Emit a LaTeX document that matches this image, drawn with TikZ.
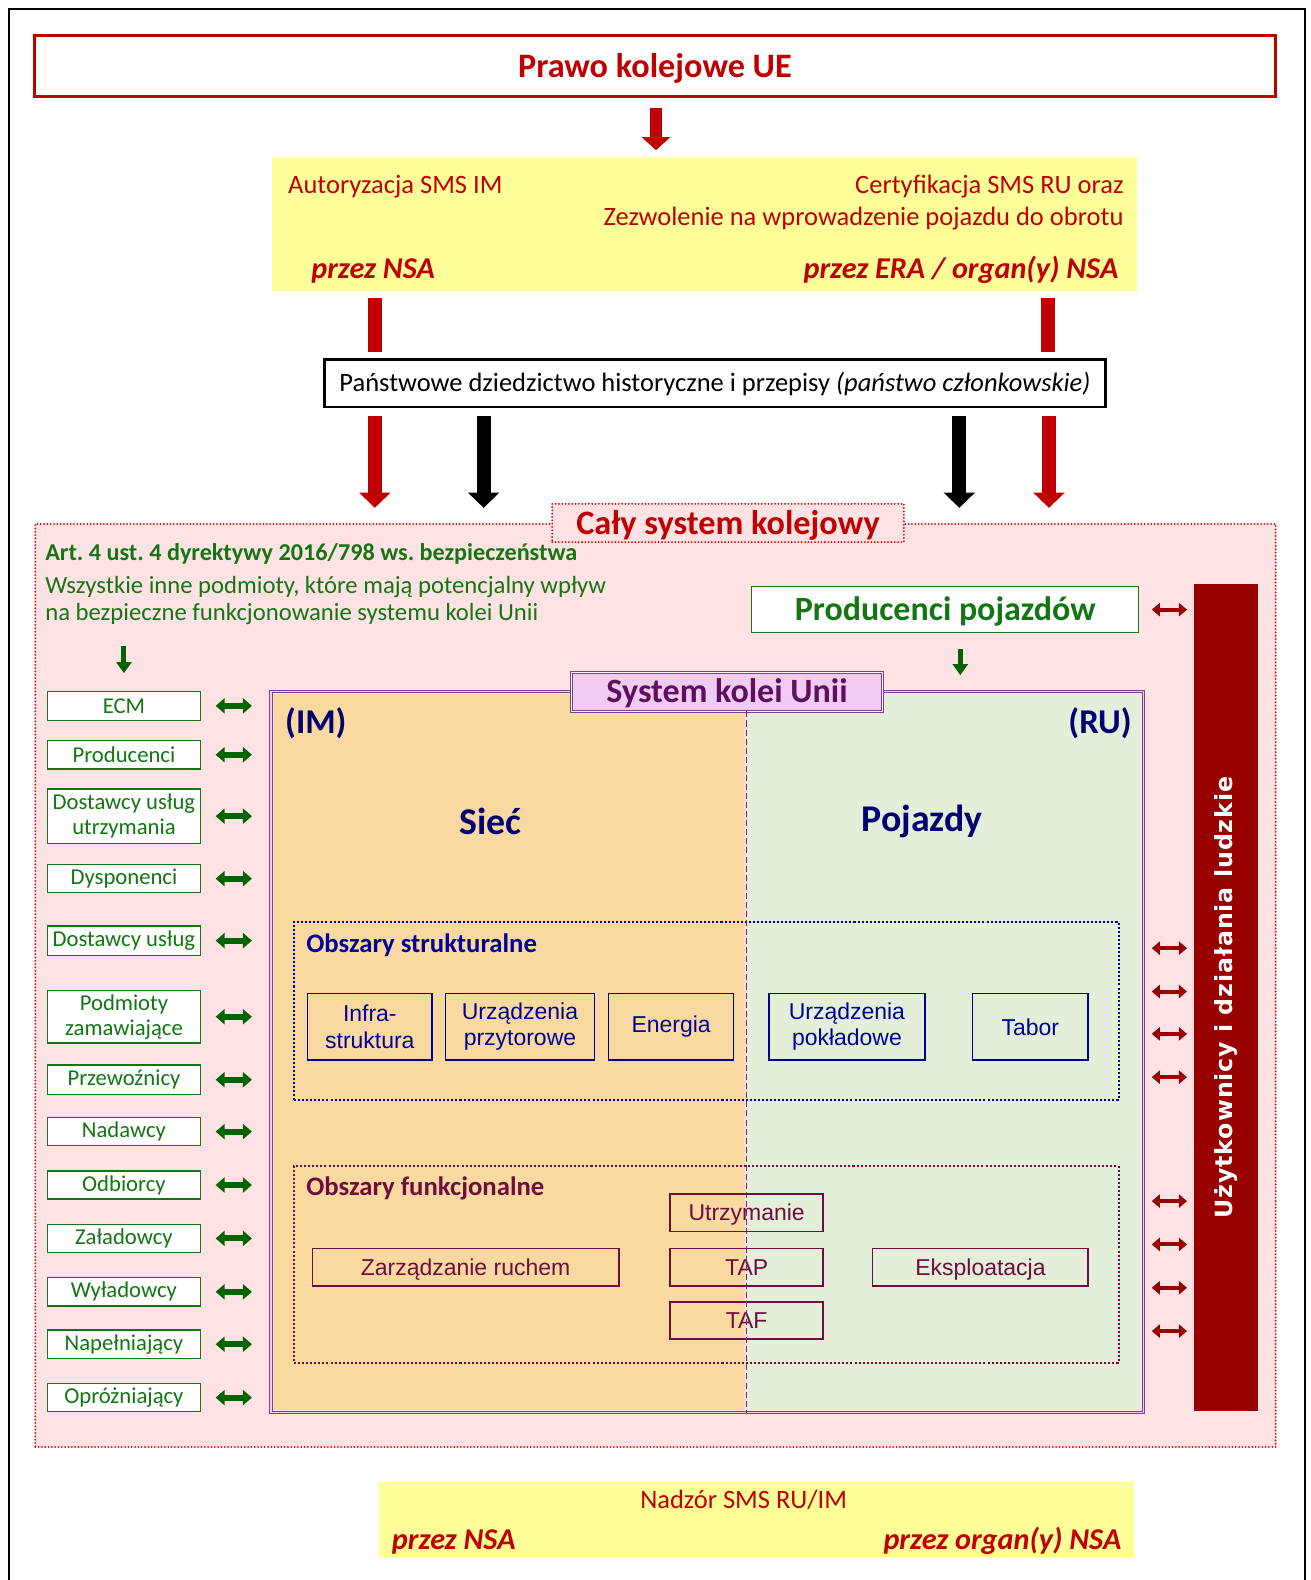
\documentclass[tikz,border=0pt]{standalone}
\usepackage{fontspec}
\setmainfont{Carlito}
\newfontfamily\arialf{Liberation Sans}
\newfontfamily\dejaf[LetterSpace=4]{DejaVu Sans}
\usetikzlibrary{arrows.meta,calc}
\definecolor{myred}{HTML}{C00000}
\definecolor{mydot}{HTML}{E00000}
\definecolor{myyel}{HTML}{FFFF99}
\definecolor{mypink}{HTML}{FFE2E4}
\definecolor{myorange}{HTML}{FAD9A1}
\definecolor{mylgreen}{HTML}{E3EFD9}
\definecolor{mylav}{HTML}{F0CCF5}
\definecolor{mypurp}{HTML}{7F3F8F}
\definecolor{mydash}{HTML}{7F1F6F}
\definecolor{mypurptxt}{HTML}{5F0F5F}
\definecolor{mynavy}{HTML}{000072}
\definecolor{myblue}{HTML}{000099}
\definecolor{mymaroon}{HTML}{6E0E3E}
\definecolor{mygreen}{HTML}{137613}
\definecolor{mygreenarr}{HTML}{006400}
\definecolor{mydarkred}{HTML}{990000}
\newcommand\fsz[2]{\fontsize{#1}{#2}\selectfont}
\frenchspacing
\begin{document}
\begin{tikzpicture}[x=1pt,y=-1pt,
  every node/.style={inner sep=0pt,outer sep=0pt},
  bigR/.style={draw=myred,line width=14pt,-{Triangle[length=15pt,width=30pt]}},
  bigK/.style={draw=black,line width=14pt,-{Triangle[length=15pt,width=30pt]}},
  barR/.style={draw=myred,line width=14pt},
  topR/.style={draw=myred,line width=12pt,-{Triangle[length=13pt,width=28pt]}},
  gdown/.style={draw=mygreenarr,line width=5pt,-{Triangle[length=11pt,width=15pt]}},
  gdbl/.style={draw=mygreenarr,line width=6pt,{Triangle[length=9pt,width=15pt]}-{Triangle[length=9pt,width=15pt]}},
  rdbl/.style={draw=mydarkred,line width=4pt,{Triangle[length=8pt,width=13pt]}-{Triangle[length=8pt,width=13pt]}},
  listbox/.style={draw=mygreen,line width=1.3pt,fill=white,minimum width=152pt,text=mygreen,font=\fsz{22.5}{25},align=center},
  sbox/.style={draw=myblue,line width=1.6pt,text=myblue,font=\arialf\fsz{22.8}{26},align=center,minimum height=66pt},
  fbox/.style={draw=mymaroon,line width=1.6pt,text=mymaroon,font=\arialf\fsz{22.8}{26},minimum width=152pt,minimum height=37pt,text height=16.3pt,text depth=0pt},
  dotbox/.style={line width=2pt,dash pattern=on 2pt off 2pt},
  reddots/.style={draw=mydot,line width=2pt,line cap=round,dash pattern=on 0pt off 3.3pt},
  yeltxt/.style={text=myred,font=\fsz{26.3}{30}},
  przez/.style={text=myred,font=\bfseries\itshape\fsz{30}{33}}
]
\useasboundingbox (0,0) rectangle (1301,1568);
\fill[white] (0,0) rectangle (1301,1568);
% outer frame
\draw[line width=2.5pt] (9,1568) -- (9,9) -- (1295,9) -- (1295,1568);

% x positions
\coordinate (xa) at (372,0);
\coordinate (xb) at (480,0);
\coordinate (xc) at (952,0);
\coordinate (xd) at (1041,0);
\coordinate (xe) at (1040,0);
\coordinate (xm) at (741,0);
\coordinate (xg) at (953,0);

% top
\node[draw=myred,line width=2.5pt,minimum width=1232pt,minimum height=61pt,text=myred,font=\bfseries\fsz{34}{38},text height=21.9pt,text depth=0pt] (prawo) at (650,65.5) {Prawo kolejowe UE};

\node[fill=myyel,minimum width=858pt,minimum height=132pt] (yel) at (699,223) {};
\node[yeltxt,anchor=base west] (auto) at (286,192.5) {Autoryzacja SMS IM};
\node[yeltxt,anchor=base east] (cert) at (1115,192.5) {Certyfikacja SMS RU oraz};
\node[yeltxt,anchor=base east] (zezw) at (1115,223.5) {Zezwolenie na wprowadzenie pojazdu do obrotu};
\node[przez,anchor=base west] (nsa1) at (309,276.5) {przez NSA};
\node[przez,anchor=base east] (era) at (1110,276.5) {przez ERA / organ(y) NSA};

\draw[topR] ([yshift=-11pt]prawo.south -| 651,0) -- ([yshift=8pt]yel.north -| 651,0);

\node[draw=black,line width=2.5pt,minimum width=775pt,minimum height=47pt,font=\fsz{26.3}{30},text height=17pt,text depth=0pt] (pan) at (709.5,380.5) {Państwowe dziedzictwo historyczne i przepisy \textit{(państwo członkowskie)}};

\draw[barR] ([yshift=-7pt]yel.south -| xa) -- ([yshift=8pt]pan.north -| xa);
\draw[barR] ([yshift=-7pt]yel.south -| xe) -- ([yshift=8pt]pan.north -| xe);

% whole system region
\node[fill=mypink,reddots,minimum width=1231pt,minimum height=916pt] (reg) at (650.5,978) {};
\node[fill=mypink,reddots,minimum width=349pt,minimum height=38pt,text=myred,font=\bfseries\fsz{34}{38},text height=21.9pt,text depth=0pt] (caly) at (722.5,519) {Cały system kolejowy};

\draw[bigR] ([yshift=-9pt]pan.south -| xa) -- ([yshift=16pt]reg.north -| xa);
\draw[bigK] ([yshift=-9pt]pan.south -| xb) -- ([yshift=16pt]reg.north -| xb);
\draw[bigK] ([yshift=-9pt]pan.south -| xc) -- ([yshift=16pt]reg.north -| xc);
\draw[bigR] ([yshift=-9pt]pan.south -| xd) -- ([yshift=16pt]reg.north -| xd);

\node[anchor=base west,text=mygreen,font=\bfseries\fsz{24}{27}] (art) at (45,556) {Art. 4 ust. 4 dyrektywy 2016/798 ws. bezpieczeństwa};
\node[anchor=base west,text=mygreen,font=\fsz{24.5}{27}] (wsz) at (45,589) {Wszystkie inne podmioty, które mają potencjalny wpływ};
\node[anchor=base west,text=mygreen,font=\fsz{24.5}{27}] (nab) at (45,616) {na bezpieczne funkcjonowanie systemu kolei Unii};

% system kolei Unii
\fill[myorange] (272,689) rectangle (739,1399);
\fill[mylgreen] (741,689) rectangle (1132,1399);
\node[draw=mypurp,double=mylav,double distance=1.2pt,line width=1pt,minimum width=866pt,minimum height=716pt] (sys) at (702,1044) {};

% producers
\node[draw=mygreen,line width=1.3pt,fill=white,minimum width=384pt,minimum height=46pt,text=mygreen,font=\bfseries\fsz{33.7}{37},text height=21.7pt,text depth=0pt] (pp) at (938,605) {Producenci pojazdów};
\draw[gdown] ([yshift=-16pt]pp.south -| xg) -- ([yshift=16pt]sys.north -| xg);

% right bar
\node[fill=mydarkred,minimum width=63pt,minimum height=820pt] (bar) at (1216.5,990) {};
\node[rotate=90,text=white,font=\dejaf\bfseries\fsz{23.5}{26}] (usr) at (bar.center) {Użytkownicy i działania ludzkie};
\draw[rdbl] ([xshift=13pt]pp.east) -- ([xshift=-7pt]bar.west |- pp.east);
\foreach \yy in {941,984,1026,1069,1192,1235,1278,1321}{
  \coordinate (ry) at (0,\yy);
  \draw[rdbl] ([xshift=8pt]sys.east |- ry) -- ([xshift=-7pt]bar.west |- ry);
}

% left list
\foreach \nm/\lab/\yc/\hh in {ecm/ECM/700.5/29, prod/Producenci/749/28, dost/{Dostawcy usług\\utrzymania}/810/54, dysp/Dysponenci/872/28, dus/Dostawcy usług/933.5/29, podm/{Podmioty\\zamawiające}/1009/52, prze/Przewoźnicy/1071.5/29, nada/Nadawcy/1123/28, odb/Odbiorcy/1176/28, zal/Załadowcy/1229/28, wyl/Wyładowcy/1282/28, nap/Napełniający/1334/28, opr/Opróżniający/1387/28}{
  \node[listbox,minimum height=\hh pt] (\nm) at (123,\yc) {\lab};
  \draw[gdbl] ([xshift=15pt]\nm.east) -- ([xshift=-19pt]\nm.east -| sys.west);
}
\draw[gdown] ([yshift=45pt]ecm.north) -- ([yshift=18pt]ecm.north);

% labels inside system
\node[draw=mypurp,double=white,double distance=1pt,line width=1pt,fill=mylav,minimum width=309pt,minimum height=39pt,text=mypurptxt,font=\bfseries\fsz{33.8}{37},text height=21.8pt,text depth=0pt] (sysl) at (721.5,686.5) {System kolei Unii};
\node[anchor=base west,text=mynavy,font=\bfseries\fsz{34.5}{38}] (im) at (283,728) {(IM)};
\node[anchor=base east,text=mynavy,font=\bfseries\fsz{34.5}{38}] (ru) at (1123,728) {(RU)};
\node[text=mynavy,font=\bfseries\fsz{37.5}{40}] (siec) at (487,815) {Sieć};
\node[text=mynavy,font=\bfseries\fsz{37.5}{40}] (poj) at (915,815) {Pojazdy};

% structural
\node[draw=myblue,dotbox,minimum width=818pt,minimum height=177pt] (str) at (701,1003.5) {};
\node[anchor=base west,text=myblue,font=\bfseries\fsz{26.5}{30}] (strl) at (304,945.5) {Obszary strukturalne};
\node[sbox,minimum width=124pt] (infra) at (367,1019) {Infra-\\struktura};
\node[sbox,minimum width=148pt] (przyt) at (516,1019) {Urządzenia\\przytorowe};
\node[sbox,minimum width=124pt] (energ) at (666,1019) {Energia};
\node[sbox,minimum width=155pt] (pokl) at (840.5,1019) {Urządzenia\\pokładowe};
\node[sbox,minimum width=115pt] (tabor) at (1022.5,1019) {Tabor};

% functional
\node[draw=mymaroon,dotbox,minimum width=818pt,minimum height=196pt] (fun) at (701,1255) {};
\node[anchor=base west,text=mymaroon,font=\bfseries\fsz{26.5}{30}] (funl) at (304,1186.5) {Obszary funkcjonalne};
\node[fbox,minimum width=304pt] (zarz) at (462,1257.5) {Zarządzanie ruchem};
\node[fbox] (utrz) at (741,1203.5) {Utrzymanie};
\node[fbox] (tap) at (741,1257.5) {TAP};
\node[fbox] (taf) at (741,1310.5) {TAF};
\node[fbox,minimum width=214pt] (eksp) at (973,1257.5) {Eksploatacja};

% dashed divider
\draw[mydash,line width=1.4pt,dash pattern=on 6pt off 3pt] (sysl.south -| xm) -- (sys.south -| xm);

% bottom
\node[fill=myyel,minimum width=749pt,minimum height=74pt] (bot) at (750.5,1508) {};
\node[yeltxt,anchor=base] (nadz) at (738,1497.5) {Nadzór SMS RU/IM};
\node[przez,anchor=base west] (nsa2) at (389,1538) {przez NSA};
\node[przez,anchor=base east] (org) at (1113,1538) {przez organ(y) NSA};
\end{tikzpicture}
\end{document}
